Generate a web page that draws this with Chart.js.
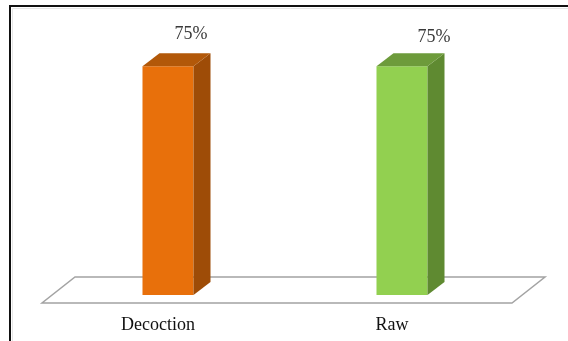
<!DOCTYPE html>
<html>
<head>
<meta charset="utf-8">
<style>
  html, body { margin: 0; padding: 0; background: #ffffff; }
  canvas { display: block; }
</style>
<script src="https://cdn.jsdelivr.net/npm/chart.js@4/dist/chart.umd.min.js"></script>
</head>
<body>
<canvas id="chart" width="568" height="341"></canvas>
<script>
// Categories and their values (percent)
const categories = ['Decoction', 'Raw'];
const values = [75, 75];
const valueLabels = values.map(v => v + '%');

// Face colours for each bar: front, top, side
const frontColors = ['#e8700b', '#92d050'];
const topColors = ['#b25809', '#6d9b3b'];
const sideColors = ['#9e4c07', '#5f8a31'];

// Depth of the extruded bars
const DEPTH_X = 17;
const DEPTH_Y = -13;
// Small nudges of the value captions relative to the bar front centre
const captionNudge = [[23, -32], [32, -29]];

const serif = '"Liberation Serif", "Times New Roman", serif';

const box3d = {
  id: 'box3d',
  beforeDatasetsDraw(chart) {
    const ctx = chart.ctx;
    const a = chart.chartArea;
    ctx.save();
    // frame lines at left and top
    ctx.strokeStyle = '#111111';
    ctx.lineWidth = 2;
    ctx.beginPath();
    ctx.moveTo(10, 341);
    ctx.lineTo(10, 6);
    ctx.lineTo(568, 6);
    ctx.stroke();
    ctx.strokeStyle = '#e6e6e6';
    ctx.lineWidth = 1;
    ctx.beginPath();
    ctx.moveTo(12.5, 341);
    ctx.lineTo(12.5, 8.5);
    ctx.lineTo(568, 8.5);
    ctx.stroke();

    // floor plane
    const yb = chart.scales.y.getPixelForValue(0);
    ctx.beginPath();
    ctx.moveTo(a.left - 9, yb + 8);
    ctx.lineTo(a.right - 7, yb + 8);
    ctx.lineTo(a.right + 26, yb - 18);
    ctx.lineTo(a.left + 24, yb - 18);
    ctx.closePath();
    ctx.fillStyle = '#ffffff';
    ctx.fill();
    ctx.strokeStyle = '#a3a3a3';
    ctx.lineWidth = 1.5;
    ctx.stroke();
    ctx.restore();
  },
  afterDatasetsDraw(chart) {
    const ctx = chart.ctx;
    const meta = chart.getDatasetMeta(0);
    ctx.save();
    meta.data.forEach((bar, i) => {
      const p = bar.getProps(['x', 'y', 'base', 'width'], true);
      const l = p.x - p.width / 2;
      const r = p.x + p.width / 2;
      // side face
      ctx.beginPath();
      ctx.moveTo(r, p.y);
      ctx.lineTo(r + DEPTH_X, p.y + DEPTH_Y);
      ctx.lineTo(r + DEPTH_X, p.base + DEPTH_Y);
      ctx.lineTo(r, p.base);
      ctx.closePath();
      ctx.fillStyle = sideColors[i];
      ctx.fill();
      // top face
      ctx.beginPath();
      ctx.moveTo(l, p.y);
      ctx.lineTo(l + DEPTH_X, p.y + DEPTH_Y);
      ctx.lineTo(r + DEPTH_X, p.y + DEPTH_Y);
      ctx.lineTo(r, p.y);
      ctx.closePath();
      ctx.fillStyle = topColors[i];
      ctx.fill();

      // value caption
      ctx.font = '18px ' + serif;
      ctx.fillStyle = '#3a3a3a';
      ctx.textAlign = 'center';
      ctx.textBaseline = 'middle';
      ctx.fillText(valueLabels[i], p.x + captionNudge[i][0], p.y + captionNudge[i][1]);

      // category label
      ctx.fillStyle = '#111111';
      ctx.fillText(categories[i], p.x - 10, p.base + 30);
    });
    ctx.restore();
  }
};

new Chart(document.getElementById('chart'), {
  type: 'bar',
  data: {
    labels: categories,
    datasets: [{
      data: values,
      backgroundColor: frontColors,
      borderWidth: 0,
      barPercentage: 1,
      categoryPercentage: 0.218
    }]
  },
  options: {
    responsive: false,
    devicePixelRatio: 1,
    animation: false,
    layout: { padding: { left: 51, right: 49, top: 51, bottom: 46 } },
    plugins: { legend: { display: false }, tooltip: { enabled: false } },
    scales: {
      x: { display: false, offset: true },
      y: { display: false, min: 0, max: 80 }
    }
  },
  plugins: [box3d]
});
</script>
</body>
</html>
